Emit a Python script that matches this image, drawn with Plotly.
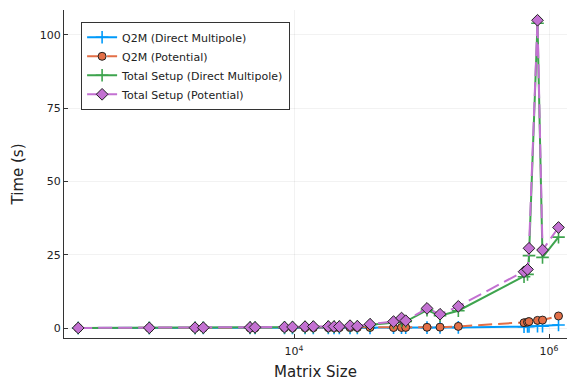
import plotly.graph_objects as go

# Matrix sizes (x)
matrix_size = [203, 733, 1673, 1944, 4517, 4944, 8424, 9732, 12200, 14170,
               18580, 20590, 22660, 27500, 31370, 39460, 60320, 69680, 75170,
               110400, 139700, 194400, 636800, 678300, 696700, 812300, 889200, 1187000]

q2m_direct = [0.0, 0.0, 0.01, 0.01, 0.01, 0.01, 0.02, 0.02, 0.02, 0.03,
              0.03, 0.03, 0.04, 0.04, 0.05, 0.06, 0.08, 0.09, 0.1,
              0.13, 0.15, 0.2, 0.45, 0.5, 0.5, 0.6, 0.65, 1.0]

q2m_potential = [0.0, 0.01, 0.02, 0.02, 0.04, 0.04, 0.06, 0.07, 0.08, 0.09,
                 0.1, 0.11, 0.12, 0.14, 0.15, 0.18, 0.15, 0.18, 0.2,
                 0.25, 0.3, 0.55, 1.8, 2.0, 2.2, 2.6, 2.7, 4.1]

total_direct = [0.01, 0.03, 0.06, 0.07, 0.14, 0.15, 0.22, 0.25, 0.3, 0.35,
                0.4, 0.42, 0.45, 0.6, 0.5, 1.1, 1.8, 2.5, 2.2,
                6.1, 4.2, 5.9, 17.5, 18.3, 24.7, 104.0, 24.1, 31.0]

total_potential = [0.02, 0.05, 0.1, 0.12, 0.2, 0.22, 0.3, 0.35, 0.45, 0.5,
                   0.5, 0.5, 0.5, 0.8, 0.6, 1.3, 2.2, 3.4, 2.5,
                   6.7, 4.7, 7.4, 19.2, 20.0, 27.2, 105.0, 26.6, 34.3]

x_tick_vals = [1e4, 1e6]
x_tick_text = ["10<sup>4</sup>", "10<sup>6</sup>"]
y_tick_vals = [0, 25, 50, 75, 100]

blue = "#009AFA"
orange = "#E36F47"
green = "#3EA44E"
purple = "#C371D2"
dash_pattern = "14px,6px"

fig = go.Figure()
fig.add_trace(go.Scatter(
    x=matrix_size, y=q2m_direct, name="Q2M (Direct Multipole)", mode="lines+markers",
    line=dict(color=blue, width=2),
    marker=dict(symbol="cross-thin", size=9, color=blue, line=dict(color=blue, width=1.6))))
fig.add_trace(go.Scatter(
    x=matrix_size, y=q2m_potential, name="Q2M (Potential)", mode="lines+markers",
    line=dict(color=orange, width=2, dash=dash_pattern),
    marker=dict(symbol="circle", size=8, color=orange, line=dict(color="#222222", width=1))))
fig.add_trace(go.Scatter(
    x=matrix_size, y=total_direct, name="Total Setup (Direct Multipole)", mode="lines+markers",
    line=dict(color=green, width=2),
    marker=dict(symbol="cross-thin", size=9, color=green, line=dict(color=green, width=1.6))))
fig.add_trace(go.Scatter(
    x=matrix_size, y=total_potential, name="Total Setup (Potential)", mode="lines+markers",
    line=dict(color=purple, width=2, dash=dash_pattern),
    marker=dict(symbol="diamond", size=9, color=purple, line=dict(color="#222222", width=1))))

font_family = "DejaVu Sans"
fig.update_layout(
    width=569, height=381,
    margin=dict(l=64, r=2, t=10, b=43, autoexpand=False),
    paper_bgcolor="white", plot_bgcolor="white",
    font=dict(family=font_family, size=11, color="#222222"),
    showlegend=True,
    hovermode=False,
    legend=dict(x=0.034, y=0.964, xanchor="left", yanchor="top",
                bgcolor="white", bordercolor="#333333", borderwidth=1,
                font=dict(size=11, family=font_family),
                tracegroupgap=0),
    xaxis=dict(type="log", range=[2.196, 6.141], automargin=False,
               tickvals=x_tick_vals, ticktext=x_tick_text,
               ticks="inside", ticklen=4, tickcolor="#333333",
               ticklabelstandoff=3,
               showline=True, linecolor="#333333", linewidth=1,
               showgrid=True, gridcolor="rgba(0,0,0,0.1)", gridwidth=0.5,
               zeroline=False, mirror=False,
               tickfont=dict(size=11),
               title=dict(text="Matrix Size", font=dict(size=15), standoff=10)),
    yaxis=dict(range=[-3.41, 108.5], tickvals=y_tick_vals, automargin=False,
               ticks="inside", ticklen=4, tickcolor="#333333",
               showline=True, linecolor="#333333", linewidth=1,
               showgrid=True, gridcolor="rgba(0,0,0,0.1)", gridwidth=0.5,
               zeroline=False, mirror=False,
               tickfont=dict(size=11),
               title=dict(text="Time (s)", font=dict(size=15), standoff=12)),
)

fig.write_html("out.html",
               config={"displayModeBar": False, "staticPlot": True},
               post_script="document.body.style.margin='0';document.body.style.overflow='hidden';")
